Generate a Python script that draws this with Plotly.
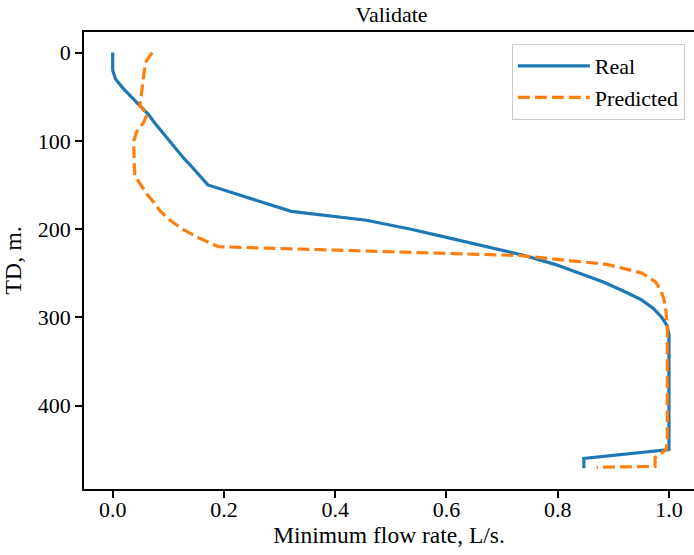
import plotly.graph_objects as go

real_depth = [0, 10, 20, 30, 40, 50, 60, 70, 80, 90, 100, 110, 120, 130, 140, 150, 160, 170, 180,
              190, 200, 210, 220, 230, 240, 250, 260, 270, 280, 290, 300, 310, 320, 330, 340, 350,
              360, 370, 380, 390, 400, 410, 420, 430, 440, 450, 460, 471]
real_flow = [0.0, 0.0, 0.0, 0.005, 0.018, 0.033, 0.048, 0.064, 0.076, 0.089, 0.102, 0.114, 0.128,
             0.143, 0.157, 0.171, 0.221, 0.271, 0.321, 0.456, 0.534, 0.604, 0.675, 0.74, 0.795,
             0.84, 0.882, 0.917, 0.95, 0.972, 0.987, 0.997, 1.0, 1.0, 1.0, 1.0, 1.0, 1.0, 1.0, 1.0,
             1.0, 1.0, 1.0, 1.0, 1.0, 1.0, 0.847, 0.847]

pred_depth = [0, 10, 20, 30, 40, 50, 60, 70, 80, 90, 100, 110, 120, 130, 140, 150, 160, 170, 180,
              190, 200, 210, 220, 230, 240, 250, 260, 270, 280, 290, 300, 310, 320, 330, 340, 350,
              360, 370, 380, 390, 400, 410, 420, 430, 440, 450, 459, 469, 470]
pred_flow = [0.071, 0.060, 0.057, 0.055, 0.053, 0.051, 0.049, 0.062, 0.055, 0.043, 0.038, 0.038,
             0.038, 0.039, 0.040, 0.050, 0.061, 0.074, 0.086, 0.103, 0.125, 0.155, 0.19, 0.73,
             0.888, 0.952, 0.976, 0.986, 0.991, 0.994, 0.996, 0.997, 0.997, 0.997, 0.997, 0.997,
             0.997, 0.997, 0.997, 0.997, 0.997, 0.997, 0.997, 0.997, 0.997, 0.995, 0.975, 0.975,
             0.87]

x_ticks = [0.0, 0.2, 0.4, 0.6, 0.8, 1.0]
y_ticks = [0, 100, 200, 300, 400]

FONT = "Liberation Serif"

fig = go.Figure()
fig.add_trace(go.Scatter(x=real_flow, y=real_depth, mode="lines", name="Real",
                         line=dict(color="#1f77b4", width=3.2)))
fig.add_trace(go.Scatter(x=pred_flow, y=pred_depth, mode="lines", name="Predicted",
                         line=dict(color="#ff7f0e", width=3.2, dash="12px,5px")))

fig.update_layout(
    width=694, height=555,
    margin=dict(l=84, r=0, t=32, b=66, autoexpand=False),
    paper_bgcolor="white", plot_bgcolor="white",
    font=dict(family=FONT, size=22, color="black"),
    title=dict(text="Validate", x=0.5641, xref="container", xanchor="center",
               y=1 - 14.5 / 555, yref="container", yanchor="middle",
               font=dict(family=FONT, size=22, color="black")),
    showlegend=True,
    legend=dict(x=0.985, y=0.9737, xanchor="right", yanchor="top",
                bgcolor="rgba(255,255,255,0.8)", bordercolor="#cccccc", borderwidth=1,
                font=dict(family=FONT, size=22, color="black"), itemwidth=72),
    xaxis=dict(range=[-0.0516, 1.045], tickvals=x_ticks, tickformat=".1f",
               showgrid=False, zeroline=False, showline=True, mirror=True,
               linecolor="black", linewidth=1.6, ticks="outside", ticklen=7,
               tickwidth=1.6, tickcolor="black", automargin=False,
               ticklabelstandoff=-7,
               tickfont=dict(family=FONT, size=22, color="black"),
               title=dict(text="Minimum flow rate, L/s.", standoff=4,
                          font=dict(family=FONT, size=23.5, color="black"))),
    yaxis=dict(range=[494.6, -23.3], tickvals=y_ticks,
               showgrid=False, zeroline=False, showline=True, mirror=False,
               linecolor="black", linewidth=1.6, ticks="outside", ticklen=7,
               tickwidth=1.6, tickcolor="black", automargin=False,
               tickfont=dict(family=FONT, size=22, color="black"),
               title=dict(text="TD, m.", standoff=10,
                          font=dict(family=FONT, size=24, color="black"))),
)

fig.write_html("out.html", config={"displayModeBar": False},
               post_script="document.body.style.margin='0';document.body.style.padding='0';")
